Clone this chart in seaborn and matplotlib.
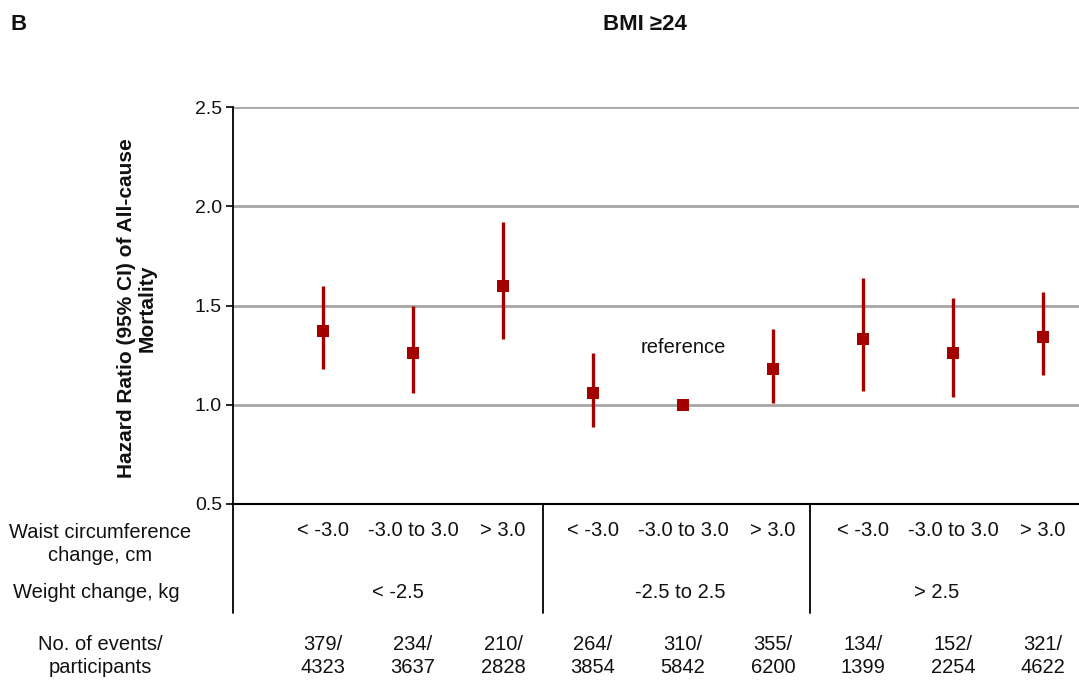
import matplotlib
matplotlib.use("Agg")
import matplotlib.pyplot as plt
import matplotlib.transforms as mtransforms
import seaborn as sns
import pandas as pd

# ---- data ----
waist_labels = ["< -3.0", "-3.0 to 3.0", "> 3.0"] * 3
weight_labels = ["< -2.5", "-2.5 to 2.5", "> 2.5"]
hr = [1.37, 1.26, 1.60, 1.06, 1.00, 1.18, 1.33, 1.26, 1.34]
ci_low = [1.18, 1.06, 1.33, 0.89, 1.00, 1.01, 1.07, 1.04, 1.15]
ci_high = [1.60, 1.50, 1.92, 1.26, 1.00, 1.38, 1.64, 1.54, 1.57]
events = [379, 234, 210, 264, 310, 355, 134, 152, 321]
participants = [4323, 3637, 2828, 3854, 5842, 6200, 1399, 2254, 4622]
y_ticks = [0.5, 1.0, 1.5, 2.0, 2.5]

sns.set_theme(style="white")
plt.rcParams["font.family"] = ["Liberation Sans", "DejaVu Sans"]

red = "#A50000"
grid_gray = "#A6A6A6"
txt = "#111111"
FS = 14.5

fig = plt.figure(figsize=(10.79, 6.82), dpi=100)
W, H = 1079, 682
ax = fig.add_axes([233 / W, (H - 504) / H, 847 / W, 397 / H])

pos = list(range(1, len(hr) + 1))
df = pd.DataFrame({"pos": pos, "hr": hr, "lo": ci_low, "hi": ci_high})

# gridlines
for yv in y_ticks[1:]:
    ax.axhline(yv, color=grid_gray, lw=2.0, zorder=0)

# CIs and point estimates
ax.vlines(df["pos"], df["lo"], df["hi"], color=red, lw=2.4, zorder=2)
sns.scatterplot(data=df, x="pos", y="hr", marker="s", s=85, color=red,
                edgecolor=red, linewidth=0, ax=ax, zorder=3, legend=False)

ax.set_xlim(0, 9.41)
ax.set_ylim(0.5, 2.5)
ax.set_yticks(y_ticks)
ax.set_yticklabels([f"{v:.1f}" for v in y_ticks], fontsize=14, color=txt)
ax.set_xticks([])
ax.set_xlabel("")
ax.tick_params(axis="y", left=True, length=5, width=1.2, color="black", pad=3,
               direction="out")

for s in ["top", "right"]:
    ax.spines[s].set_visible(False)
ax.spines["left"].set_color("black")
ax.spines["left"].set_linewidth(1.3)
ax.spines["bottom"].set_color("black")
ax.spines["bottom"].set_linewidth(1.5)

ax.set_ylabel("Hazard Ratio (95% CI) of All-cause\nMortality", fontsize=15,
              fontweight="bold", color=txt, linespacing=1.15)
ax.yaxis.set_label_coords(-0.090, 0.494)

# reference text
ax.text(5, 1.29, "reference", ha="center", va="center", fontsize=FS, color=txt)

trans = mtransforms.blended_transform_factory(ax.transData, ax.transAxes)


def yfrac(ypx):
    return (504 - ypx) / 397


# lower structure lines
bottom_y = yfrac(613)
ax.plot([0, 0], [0, bottom_y], transform=trans, color="black", lw=1.3, clip_on=False)
for xs in [3.445, 6.41]:
    ax.plot([xs, xs], [0, bottom_y], transform=trans, color="black", lw=1.3, clip_on=False)

# waist labels
for p, lab in zip(pos, waist_labels):
    ax.text(p, yfrac(531), lab, transform=trans, ha="center", va="center",
            fontsize=FS, color=txt)

# weight labels
weight_x = [1.83, 4.97, 7.82]
for xw, lab in zip(weight_x, weight_labels):
    ax.text(xw, yfrac(592), lab, transform=trans, ha="center", va="center",
            fontsize=FS, color=txt)

# events / participants
for p, e, n in zip(pos, events, participants):
    ax.text(p, yfrac(656), f"{e}/\n{n}", transform=trans, ha="center", va="center",
            fontsize=FS, color=txt, linespacing=1.25)

# row headers
fig.text(100 / W, 1 - 544 / H, "Waist circumference\nchange, cm", ha="center",
         va="center", fontsize=FS, color=txt, linespacing=1.25)
fig.text(96 / W, 1 - 592 / H, "Weight change, kg", ha="center", va="center",
         fontsize=FS, color=txt)
fig.text(100 / W, 1 - 656 / H, "No. of events/\nparticipants", ha="center",
         va="center", fontsize=FS, color=txt, linespacing=1.25)

# titles
fig.text(10 / W, 1 - 25 / H, "B", ha="left", va="center", fontsize=16,
         fontweight="bold", color=txt)
fig.text(645 / W, 1 - 25 / H, "BMI ≥24", ha="center", va="center", fontsize=16,
         fontweight="bold", color=txt)

fig.savefig("out.png", dpi=100, facecolor="white")
